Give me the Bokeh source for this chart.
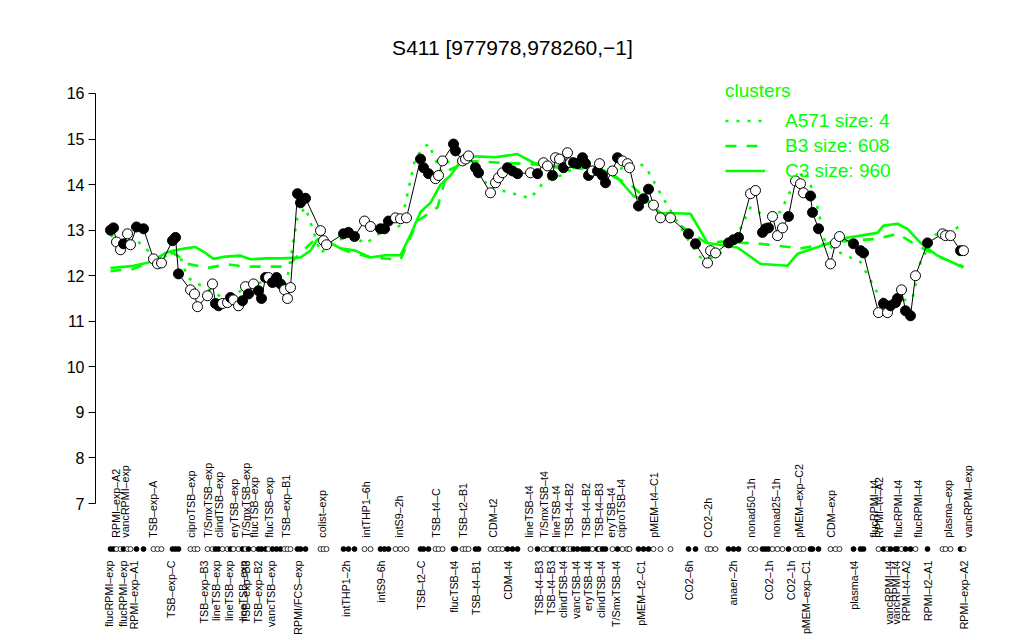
import math
from bokeh.plotting import figure
from bokeh.models import Range1d, FixedTicker, Legend, LegendItem, Label
from bokeh.core.properties import value
from bokeh.embed import file_html
from bokeh.resources import INLINE

FONT = "Liberation Sans"
GREEN = "#00ff00"

# ---- samples (in plot order): position, expression, filled(1)/open(0)
sample_pos = [3.0, 3.6, 4.2, 5.0, 5.6, 6.4, 7.0, 8.2, 9.6, 11.6, 12.4, 13.2, 15.4, 16.0, 16.6,
              19.0, 19.8, 20.4, 22.4, 23.4, 24.0, 24.6, 25.4, 26.4, 27.0, 27.6, 28.6, 29.4, 30.0,
              30.6, 31.6, 32.6, 33.2, 34.0, 34.6, 35.4, 36.2, 37.0, 37.8, 38.4, 39.0, 40.4, 41.0,
              42.0, 45.0, 45.6, 46.2, 49.6, 50.6, 51.8, 53.8, 55.0, 57.0, 57.8, 58.6, 60.0, 61.0,
              62.2, 65.0, 65.6, 66.6, 68.0, 68.6, 69.4, 71.6, 72.0, 73.4, 74.0, 74.6, 76.0, 76.6,
              79.0, 80.0, 80.6, 81.4, 82.4, 83.4, 84.4, 87.0, 88.4, 89.6, 90.4, 91.4, 92.0, 92.8,
              93.6, 94.4, 95.0, 95.6, 96.4, 97.4, 98.0, 98.6, 99.4, 100.4, 100.8, 101.4, 102.0,
              103.4, 104.4, 105.4, 106.4, 106.8, 108.6, 109.6, 110.6, 111.6, 113.0, 115.0, 118.6,
              120.0, 122.4, 123.0, 124.0, 126.6, 127.6, 128.6, 131.0, 132.0, 133.4, 134.0, 134.6,
              135.4, 136.4, 137.4, 138.6, 140.0, 141.0, 141.6, 143.0, 143.4, 144.6, 147.0, 148.0,
              148.8, 151.6, 153.0, 153.6, 156.6, 157.6, 158.4, 159.0, 160.0, 160.4, 161.2, 162.0,
              163.0, 164.0, 166.4, 169.4, 170.0, 171.0, 173.0, 173.6]
sample_val = [13.0, 13.05, 12.74, 12.57, 12.7, 12.92, 12.68, 13.07, 13.03, 12.37, 12.26, 12.28,
              12.77, 12.84, 12.04, 11.69, 11.6, 11.32, 11.56, 11.82, 11.39, 11.34, 11.39, 11.41,
              11.52, 11.47, 11.34, 11.45, 11.76, 11.6, 11.82, 11.67, 11.5, 11.96, 11.96, 11.85,
              11.96, 11.82, 11.69, 11.5, 11.74, 13.8, 13.6, 13.7, 12.99, 12.77, 12.68, 12.92,
              12.95, 12.86, 13.2, 13.08, 13.03, 13.03, 13.2, 13.27, 13.25, 13.27, 14.56, 14.37,
              14.24, 14.13, 14.2, 14.52, 14.89, 14.74, 14.52, 14.56, 14.63, 14.37, 14.26, 13.82,
              14.04, 14.15, 14.26, 14.37, 14.3, 14.24, 14.26, 14.24, 14.48, 14.41, 14.2, 14.59,
              14.56, 14.37, 14.7, 14.48, 14.48, 14.46, 14.59, 14.46, 14.2, 14.3, 14.3, 14.46,
              14.2, 14.04, 14.3, 14.59, 14.52, 14.46, 14.37, 13.53, 13.69, 13.9, 13.55, 13.27,
              13.27, 12.92, 12.7, 12.28, 12.55, 12.5, 12.72, 12.79, 12.84, 13.8, 13.87, 12.95,
              13.03, 13.05, 13.3, 12.88, 13.05, 13.3, 14.08, 14.02, 13.82, 13.75, 13.39, 13.03,
              12.26, 12.72, 12.86, 12.7, 12.55, 12.5, 11.19, 11.39, 11.19, 11.34, 11.41, 11.5,
              11.69, 11.23, 11.12, 12.0, 12.72, 12.92, 12.88, 12.88, 12.55, 12.55]
sample_filled = [1, 1, 0, 0, 1, 0, 0, 1, 1, 0, 0, 0, 1, 1, 1, 0, 0, 0, 0, 0, 1, 1, 0, 0, 1, 0,
                 0, 1, 0, 1, 0, 1, 1, 1, 0, 1, 1, 1, 0, 0, 0, 1, 1, 1, 0, 0, 0, 1, 1, 1, 0, 0,
                 1, 1, 1, 0, 0, 0, 1, 1, 1, 0, 0, 0, 1, 1, 0, 0, 0, 1, 1, 0, 0, 0, 0, 1, 1, 1,
                 0, 1, 0, 0, 1, 0, 0, 1, 0, 0, 1, 1, 1, 1, 1, 0, 1, 0, 1, 1, 0, 1, 0, 0, 0, 1,
                 1, 1, 0, 0, 0, 1, 1, 0, 0, 0, 1, 1, 1, 0, 0, 1, 1, 1, 0, 0, 0, 1, 0, 0, 0, 1,
                 1, 1, 0, 0, 0, 1, 1, 1, 0, 1, 0, 1, 1, 1, 0, 1, 1, 0, 1, 0, 0, 0, 1, 0]

# ---- cluster mean profiles
c3_pos = [3.0, 6.0, 7.6, 11.0, 14.0, 15.4, 18.0, 20.0, 22.0, 23.6, 26.0, 29.0, 31.0, 34.0, 37.0,
          41.0, 43.0, 44.4, 47.0, 49.0, 52.0, 55.0, 58.0, 61.0, 63.0, 65.0, 67.0, 69.0, 71.0,
          73.0, 76.0, 80.0, 84.4, 87.6, 92.4, 95.6, 101.0, 104.4, 107.6, 110.4, 113.0, 119.0,
          122.4, 128.4, 133.0, 138.4, 140.4, 146.4, 149.0, 156.4, 157.6, 160.4, 162.4, 165.0,
          168.4, 173.6]
c3_val = [12.17, 12.2, 12.22, 12.3, 12.5, 12.55, 12.6, 12.63, 12.5, 12.37, 12.42, 12.44, 12.36,
          12.38, 12.38, 12.4, 12.55, 12.8, 12.72, 12.6, 12.55, 12.4, 12.45, 12.45, 12.9, 13.4,
          13.6, 14.0, 14.2, 14.5, 14.62, 14.6, 14.67, 14.48, 14.37, 14.45, 14.35, 14.15, 13.75,
          13.62, 13.38, 13.36, 12.72, 12.62, 12.26, 12.22, 12.48, 12.7, 12.81, 12.94, 13.1,
          13.14, 13.03, 12.72, 12.44, 12.18]
b3_pos = [3.0, 7.6, 11.0, 15.4, 17.0, 18.4, 22.4, 26.4, 29.6, 34.4, 38.4, 41.0, 44.4, 47.0,
          50.0, 55.0, 61.0, 64.4, 68.4, 70.4, 74.4, 81.0, 87.0, 93.0, 101.0, 107.0, 111.0,
          117.0, 122.4, 125.0, 133.0, 141.0, 149.0, 156.4, 160.4, 164.4, 169.0, 173.6]
b3_val = [12.1, 12.15, 12.3, 12.5, 12.4, 12.26, 12.17, 12.25, 12.2, 12.2, 12.2, 12.5, 12.85,
          12.7, 12.55, 12.4, 12.35, 13.2, 13.5, 14.3, 14.52, 14.48, 14.45, 14.4, 14.3, 14.0,
          13.6, 13.1, 12.7, 12.75, 12.7, 12.6, 12.75, 12.81, 12.92, 12.66, 12.4, 12.2]
a571_pos = [3.0, 5.0, 8.0, 11.0, 13.0, 15.4, 17.0, 18.4, 21.6, 25.0, 27.6, 31.0, 34.0, 38.0,
            40.4, 42.0, 45.0, 48.0, 51.0, 54.0, 57.0, 61.0, 64.0, 66.6, 69.0, 72.0, 75.0, 79.0,
            81.6, 87.0, 90.0, 93.0, 98.0, 101.0, 105.0, 108.0, 110.0, 113.0, 119.0, 121.0,
            124.0, 128.0, 131.0, 134.0, 137.0, 140.0, 142.0, 144.0, 146.0, 149.0, 153.0,
            157.0, 161.0, 163.4, 165.0, 168.0, 171.0, 173.6]
a571_val = [12.9, 12.7, 12.8, 12.5, 12.35, 12.55, 12.4, 11.96, 11.75, 11.55, 11.6, 11.75, 11.9,
            11.7, 13.3, 13.5, 12.5, 12.75, 12.9, 12.7, 12.95, 13.1, 14.6, 14.9, 14.3, 14.7,
            14.5, 13.9, 13.86, 13.7, 14.1, 14.2, 14.5, 14.4, 14.35, 14.48, 14.4, 13.8, 12.7,
            12.4, 12.4, 12.8, 13.5, 13.3, 13.4, 14.1, 14.3, 13.7, 12.7, 12.5, 12.3, 11.5,
            11.45, 11.5, 12.3, 12.9, 13.0, 13.1]

# ---- condition labels
top_labels = ["RPMI\u2013exp\u2013A2", "vancRPMI\u2013exp", "TSB\u2013exp\u2013A", "ciproTSB\u2013exp",
              "T/SmxTSB\u2013exp", "clindTSB\u2013exp", "eryTSB\u2013exp", "T/SmxTSB\u2013exp",
              "flucTSB\u2013exp", "flucTSB\u2013exp", "TSB\u2013exp\u2013B1", "colist\u2013exp",
              "intTHP1\u20136h", "intS9\u20132h", "TSB\u2013t4\u2013C", "TSB\u2013t2\u2013B1", "CDM\u2013t2",
              "lineTSB\u2013t4", "T/SmxTSB\u2013t4", "lineTSB\u2013t4", "TSB\u2013t4\u2013B2",
              "TSB\u2013t4\u2013B2", "TSB\u2013t4\u2013B3", "eryTSB\u2013t4", "ciproTSB\u2013t4",
              "pMEM\u2013t4\u2013C1", "CO2\u20132h", "nonad50\u20131h", "nonad25\u20131h",
              "pMEM\u2013exp\u2013C2", "CDM\u2013exp", "flucRPMI\u2013t4", "RPMI\u2013t4\u2013A2",
              "flucRPMI\u2013t4", "flucRPMI\u2013t4", "plasma\u2013exp", "vancRPMI\u2013exp"]
top_pos = [4.0, 5.8, 11.4, 19.0, 22.4, 24.6, 27.6, 30.0, 31.6, 34.6, 38.0, 45.2, 54.0, 60.6,
           68.0, 73.4, 79.4, 86.6, 89.6, 92.0, 94.6, 98.0, 100.6, 103.0, 105.0, 111.6, 122.4,
           131.0, 136.0, 140.6, 147.0, 155.6, 156.6, 160.4, 164.4, 170.4, 174.4]
bottom_labels = ["flucRPMI\u2013exp", "flucRPMI\u2013exp", "RPMI\u2013exp\u2013A1", "TSB\u2013exp\u2013C",
                 "TSB\u2013exp\u2013B3", "lineTSB\u2013exp", "lineTSB\u2013exp", "lineTSB\u2013exp",
                 "TSB\u2013exp\u2013B3", "TSB\u2013exp\u2013B2", "vancTSB\u2013exp", "RPMI/FCS\u2013exp",
                 "intTHP1\u20132h", "intS9\u20136h", "TSB\u2013t2\u2013C", "flucTSB\u2013t4",
                 "TSB\u2013t4\u2013B1", "CDM\u2013t4", "TSB\u2013t4\u2013B3", "TSB\u2013t4\u2013B3",
                 "clindTSB\u2013t4", "vancTSB\u2013t4", "eryTSB\u2013t4", "clindTSB\u2013t4",
                 "T/SmxTSB\u2013t4", "pMEM\u2013t2\u2013C1", "CO2\u20136h", "anaer\u20132h", "CO2\u20131h",
                 "CO2\u20131h", "pMEM\u2013exp\u2013C1", "plasma\u2013t4", "vancRPMI\u2013t4",
                 "vancRPMI\u2013t4", "RPMI\u2013t4\u2013A2", "RPMI\u2013t2\u2013A1", "RPMI\u2013exp\u2013A2"]
bottom_pos = [2.6, 5.4, 7.6, 15.0, 21.6, 24.0, 26.6, 29.4, 30.0, 32.4, 35.0, 40.4, 50.0, 57.0,
              65.0, 71.6, 76.0, 82.4, 88.6, 91.0, 93.4, 96.0, 98.4, 101.0, 104.0, 109.0, 118.6,
              127.4, 134.6, 139.0, 142.0, 151.6, 158.6, 160.0, 162.0, 166.4, 173.6]

title_text = "S411 [977978,978260,\u22121]"
cluster_names = ["A571 size: 4", "B3 size: 608", "C3 size: 960"]
y_ticks = [7, 8, 9, 10, 11, 12, 13, 14, 15, 16]

# ---- layout constants
STRIP_Y = 6.0
TOP_LAB_Y = 6.25
BOT_LAB_Y = 5.75

p = figure(width=1024, height=640, output_backend="svg", toolbar_location=None,
           x_range=Range1d(0, 185.8), y_range=Range1d(3.993, 18.041),
           x_axis_location=None, min_border_left=95, min_border_right=0,
           min_border_top=0, min_border_bottom=0, background_fill_color="white",
           border_fill_color="white")
p.outline_line_color = None
p.grid.visible = False

ax = p.yaxis[0]
ax.ticker = FixedTicker(ticks=y_ticks)
ax.bounds = (7, 16)
ax.major_tick_out = 7
ax.major_tick_in = 0
ax.minor_tick_out = 0
ax.minor_tick_in = 0
ax.axis_line_color = "black"
ax.major_tick_line_color = "black"
ax.major_label_text_font = FONT
ax.major_label_text_font_size = "16px"
ax.major_label_text_color = "black"
ax.major_label_standoff = 4

# cluster profiles
rA = p.line(a571_pos, a571_val, line_color=GREEN, line_width=2.6, line_dash="3 8")
rB = p.line(b3_pos, b3_val, line_color=GREEN, line_width=2.6, line_dash="11 10")
rC = p.line(c3_pos, c3_val, line_color=GREEN, line_width=2.6)

# gene profile
p.line(sample_pos, sample_val, line_color="black", line_width=1)
fills = ["black" if f else "white" for f in sample_filled]
p.scatter(sample_pos, sample_val, size=10, fill_color=fills, line_color="black", line_width=1)

# sample strip
p.scatter(sample_pos, STRIP_Y, size=5, fill_color=fills, line_color="black", line_width=0.8)

# condition labels
p.text(top_pos, TOP_LAB_Y, text=top_labels, angle=math.pi / 2, text_align="left",
       text_baseline="middle", text_font=value(FONT), text_font_size="10.7px", text_color="black")
p.text(bottom_pos, BOT_LAB_Y, text=bottom_labels, angle=math.pi / 2, text_align="right",
       text_baseline="middle", text_font=value(FONT), text_font_size="10.7px", text_color="black")

# title
p.add_layout(Label(x=83.4, y=17.01, text=title_text, text_align="center", text_baseline="middle",
                   text_font=FONT, text_font_size="21px", text_color="black"))

legend = Legend(items=[LegendItem(label=cluster_names[0], renderers=[rA]),
                       LegendItem(label=cluster_names[1], renderers=[rB]),
                       LegendItem(label=cluster_names[2], renderers=[rC])],
                title="clusters", location=(630, 457))
legend.border_line_color = None
legend.background_fill_alpha = 0
legend.padding = 0
legend.margin = 0
legend.spacing = 0
legend.glyph_width = 40
legend.glyph_height = 25
legend.label_height = 25
legend.label_standoff = 20
legend.label_text_font = FONT
legend.label_text_font_size = "19px"
legend.label_text_color = GREEN
legend.title_text_font = FONT
legend.title_text_font_size = "19px"
legend.title_text_font_style = "normal"
legend.title_text_color = GREEN
legend.title_standoff = 6
p.add_layout(legend)

open("out.html", "w").write(file_html(p, INLINE))
